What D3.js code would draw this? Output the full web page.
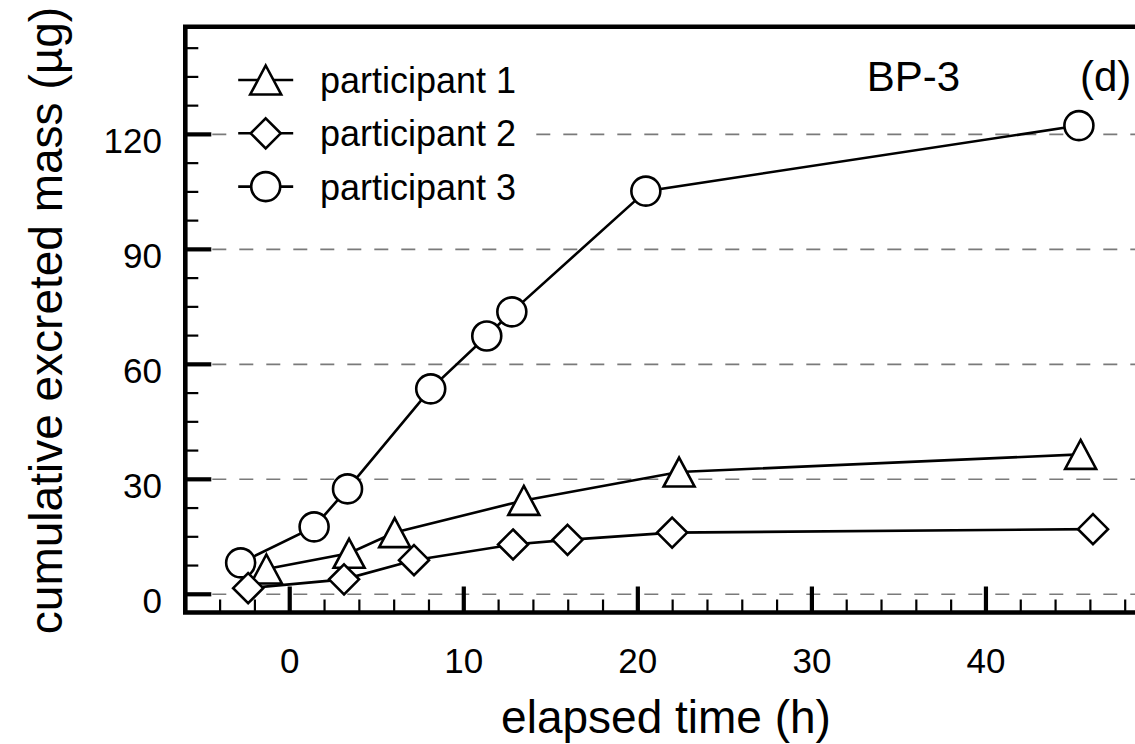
<!DOCTYPE html>
<html>
<head>
<meta charset="utf-8">
<script src="https://cdn.jsdelivr.net/npm/d3@7"></script>
<style>
  body { margin: 0; padding: 0; background: #fff; }
  text { font-family: "Liberation Sans", Arial, Helvetica, sans-serif; fill: #000; }
</style>
</head>
<body>
<script>
// participant series (time in h, mass in µg)
const p1Time = [-1.34, 3.41, 6.03, 13.45, 22.37, 45.44]
const p1Mass = [6.6, 10.7, 16.1, 24.5, 31.9, 36.5]

const p2Time = [-2.39, 3.12, 7.14, 12.83, 15.96, 21.97, 46.15]
const p2Mass = [1.6, 3.9, 8.9, 13.0, 14.2, 16.1, 17.0]

const p3Time = [-2.82, 1.40, 3.32, 8.10, 11.32, 12.76, 20.46, 45.34]
const p3Mass = [8.2, 17.6, 27.5, 53.6, 67.4, 73.7, 105.2, 122.3]

const xTicks = [0, 10, 20, 30, 40]
const yTicks = [0, 30, 60, 90, 120]
const legendLabels = ["participant 1", "participant 2", "participant 3"]

const width = 1135
const height = 744

const plotLeft = 185.3, plotRight = 1142.6, plotTop = 26.7, plotBottom = 612.5

const x = d3.scaleLinear().domain([-6, 49]).range([plotLeft, plotRight])
const y = d3.scaleLinear().domain([-4.75, 148.1]).range([plotBottom, plotTop])

const svg = d3.select("body").append("svg")
  .attr("width", width)
  .attr("height", height)

// dashed grid at the major y values
svg.append("g")
  .selectAll("line")
  .data(yTicks)
  .join("line")
  .attr("x1", plotLeft)
  .attr("x2", plotRight)
  .attr("y1", d => y(d))
  .attr("y2", d => y(d))
  .attr("stroke", "#7a7a7a")
  .attr("stroke-width", 1.6)
  .attr("stroke-dasharray", "14,13")

// ticks, drawn inward
const xMinor = d3.range(-4, 49, 2).filter(v => !xTicks.includes(v))
const yMinor = d3.range(7.5, 148, 7.5).filter(v => !yTicks.includes(v))

svg.append("g").selectAll("line").data(xMinor).join("line")
  .attr("x1", d => x(d)).attr("x2", d => x(d))
  .attr("y1", plotBottom).attr("y2", plotBottom - 13)
  .attr("stroke", "#000").attr("stroke-width", 2.2)

svg.append("g").selectAll("line").data(xTicks).join("line")
  .attr("x1", d => x(d)).attr("x2", d => x(d))
  .attr("y1", plotBottom).attr("y2", plotBottom - 26)
  .attr("stroke", "#000").attr("stroke-width", 4.2)

svg.append("g").selectAll("line").data(yMinor).join("line")
  .attr("x1", plotLeft).attr("x2", plotLeft + 13)
  .attr("y1", d => y(d)).attr("y2", d => y(d))
  .attr("stroke", "#000").attr("stroke-width", 2.2)

svg.append("g").selectAll("line").data(yTicks).join("line")
  .attr("x1", plotLeft).attr("x2", plotLeft + 26)
  .attr("y1", d => y(d)).attr("y2", d => y(d))
  .attr("stroke", "#000").attr("stroke-width", 4.2)

// frame
svg.append("path")
  .attr("d", `M${plotRight},${plotTop}H${plotLeft}V${plotBottom}H${plotRight}`)
  .attr("fill", "none")
  .attr("stroke", "#000")
  .attr("stroke-width", 4.6)

// tick labels
svg.append("g").selectAll("text").data(xTicks).join("text")
  .attr("x", d => x(d))
  .attr("y", 673)
  .attr("text-anchor", "middle")
  .attr("font-size", "35px")
  .text(d => d)

svg.append("g").selectAll("text").data(yTicks).join("text")
  .attr("x", 162)
  .attr("y", d => y(d) + 19)
  .attr("text-anchor", "end")
  .attr("font-size", "35px")
  .text(d => d)

// axis titles
svg.append("text")
  .attr("x", 666)
  .attr("y", 733)
  .attr("text-anchor", "middle")
  .attr("font-size", "46px")
  .text("elapsed time (h)")

svg.append("text")
  .attr("transform", "translate(61.5,320.5) rotate(-90)")
  .attr("text-anchor", "middle")
  .attr("font-size", "46px")
  .text("cumulative excreted mass (µg)")

svg.append("text")
  .attr("x", 866.7).attr("y", 90.7)
  .attr("font-size", "42px")
  .text("BP-3")

svg.append("text")
  .attr("x", 1080).attr("y", 90.7)
  .attr("font-size", "42px")
  .text("(d)")

// marker shapes
const tri = "M0,-14.5L15.5,14.5L-15.5,14.5Z"
const dia = "M0,-15L15,0L0,15L-15,0Z"
const circ = d3.symbol().type(d3.symbolCircle).size(Math.PI * 14.5 * 14.5)()

const series = [
  { name: legendLabels[2], t: p3Time, m: p3Mass, shape: circ },
  { name: legendLabels[0], t: p1Time, m: p1Mass, shape: tri },
  { name: legendLabels[1], t: p2Time, m: p2Mass, shape: dia }
]

const line = d3.line().x(d => x(d[0])).y(d => y(d[1]))

series.forEach(s => {
  const pts = s.t.map((t, i) => [t, s.m[i]])
  const g = svg.append("g")
  g.append("path")
    .attr("d", line(pts))
    .attr("fill", "none")
    .attr("stroke", "#000")
    .attr("stroke-width", 2.6)
  g.selectAll("path.mark")
    .data(pts)
    .join("path")
    .attr("class", "mark")
    .attr("d", s.shape)
    .attr("transform", d => `translate(${x(d[0])},${y(d[1])})`)
    .attr("fill", "#fff")
    .attr("stroke", "#000")
    .attr("stroke-width", 2.6)
})

// legend
const legendShapes = [tri, dia, circ]
const legend = svg.append("g")

legend.append("rect")
  .attr("x", 232).attr("y", 55)
  .attr("width", 298).attr("height", 158)
  .attr("fill", "#fff")

const rows = legend.selectAll("g")
  .data(legendLabels)
  .join("g")
  .attr("transform", (d, i) => `translate(265.7,${80 + i * 53.3})`)

rows.append("line")
  .attr("x1", -27.5).attr("x2", 27.5)
  .attr("stroke", "#000").attr("stroke-width", 2.6)

rows.append("path")
  .attr("d", (d, i) => legendShapes[i])
  .attr("fill", "#fff")
  .attr("stroke", "#000")
  .attr("stroke-width", 2.6)

rows.append("text")
  .attr("x", 54.3)
  .attr("y", 13)
  .attr("font-size", "36px")
  .text(d => d)
</script>
</body>
</html>
